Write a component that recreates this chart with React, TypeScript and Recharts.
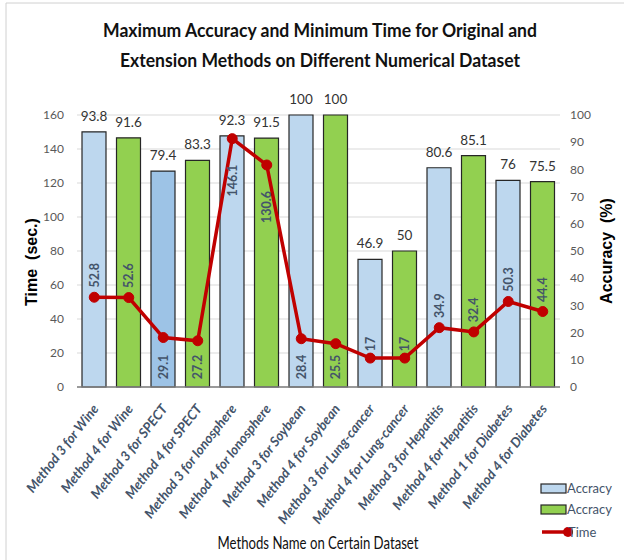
import React from "react";
import {
  ComposedChart,
  Bar,
  Line,
  XAxis,
  YAxis,
  CartesianGrid,
  Cell,
  LabelList,
} from "recharts";

// Categories on the x axis (one bar per method/dataset pair)
const methods = [
  "Method 3 for Wine",
  "Method 4 for Wine",
  "Method 3 for SPECT",
  "Method 4 for SPECT",
  "Method 3 for Ionosphere",
  "Method 4 for Ionosphere",
  "Method 3 for Soybean",
  "Method 4 for Soybean",
  "Method 3 for Lung-cancer",
  "Method 4 for Lung-cancer",
  "Method 3 for Hepatitis",
  "Method 4 for Hepatitis",
  "Method 1 for Diabetes",
  "Method 4 for Diabetes",
];

// Accuracy (%) drawn as bars on the right axis
const accuracy = [93.8, 91.6, 79.4, 83.3, 92.3, 91.5, 100, 100, 46.9, 50, 80.6, 85.1, 76, 75.5];

// Time (sec.) drawn as the red line on the left axis
const timeSec = [52.8, 52.6, 29.1, 27.2, 146.1, 130.6, 28.4, 25.5, 17, 17, 34.9, 32.4, 50.3, 44.4];

const timeTicks = [0, 20, 40, 60, 80, 100, 120, 140, 160];
const accTicks = [0, 10, 20, 30, 40, 50, 60, 70, 80, 90, 100];

const data = methods.map((name, i) => ({ name, acc: accuracy[i], time: timeSec[i] }));

const CAL = 'Lato, "Open Sans", sans-serif';
const ARIAL = '"Liberation Sans", Arial, sans-serif';
const BLUE = "#BDD7EE";
const BLUE_DARK = "#9DC3E6";
const GREEN = "#92D050";
const RED = "#C00000";
const SLATE = "#44546A";

// plot area bounds (px)
const PLOT_TOP = 115;
const PLOT_BOTTOM = 387;

const barColor = (i: number) => (i % 2 === 1 ? GREEN : i === 2 ? BLUE_DARK : BLUE);

// rotated x-axis labels
const XTick = (props: any) => {
  const { x, y, payload } = props;
  const ax = x + 5;
  const ay = y + 14;
  return (
    <text
      x={ax}
      y={ay}
      transform={`rotate(-52, ${ax}, ${ay})`}
      textAnchor="end"
      fill={SLATE}
      fontSize={13.5}
      fontStyle="italic"
      fontWeight="bold"
      fontFamily={CAL}
    >
      {payload.value}
    </text>
  );
};

// vertical time labels inside the bars, placed roughly the way Excel did
const TimeLabel = (props: any) => {
  const { x, y, value, index } = props;
  const acc = accuracy[index];
  const barTop = PLOT_BOTTOM - (acc / 100) * (PLOT_BOTTOM - PLOT_TOP);
  let cy = y - 22;
  if (value < 30 && acc > 60) cy = PLOT_BOTTOM - 20;
  else if (y - barTop < 45) cy = y + 42;
  else if (String(value).length <= 2) cy = y - 14;
  return (
    <text
      x={x}
      y={cy}
      transform={`rotate(-90, ${x}, ${cy})`}
      textAnchor="middle"
      dominantBaseline="central"
      fill={SLATE}
      fontSize={12.5}
      fontWeight="bold"
      fontFamily={CAL}
    >
      {value}
    </text>
  );
};

const App: React.FC = () => {
  return (
    <div style={{ position: "absolute", left: 0, top: 0, width: 624, height: 560, background: "#fff" }}>
      <ComposedChart
        width={624}
        height={560}
        data={data}
        margin={{ top: PLOT_TOP, right: 24, left: 27, bottom: 113 }}
        barSize={24}
      >
        <CartesianGrid vertical={false} stroke="#D9D9D9" yAxisId="left" />
        <XAxis
          dataKey="name"
          interval={0}
          height={60}
          tickLine={false}
          axisLine={{ stroke: "#7F7F7F", strokeWidth: 1.5 }}
          tick={<XTick />}
        />
        <YAxis
          yAxisId="left"
          orientation="left"
          width={50}
          domain={[0, 160]}
          ticks={timeTicks}
          axisLine={false}
          tickLine={false}
          tickSize={0}
          tickMargin={13}
          tick={{ fill: "#595959", fontSize: 12, fontFamily: CAL }}
        />
        <YAxis
          yAxisId="right"
          orientation="right"
          width={40}
          domain={[0, 100]}
          ticks={accTicks}
          axisLine={false}
          tickLine={false}
          tickSize={0}
          tickMargin={10}
          tick={{ fill: "#595959", fontSize: 12, fontFamily: CAL, textAnchor: "start" }}
        />
        <Bar dataKey="acc" yAxisId="right" stroke="#262626" strokeWidth={1.2} isAnimationActive={false}>
          {data.map((_, i) => (
            <Cell key={i} fill={barColor(i)} />
          ))}
          <LabelList
            dataKey="acc"
            position="top"
            offset={11}
            fill="#333"
            fontSize={13.5}
            fontFamily={CAL}
          />
        </Bar>
        <Line
          dataKey="time"
          yAxisId="left"
          stroke={RED}
          strokeWidth={3.5}
          dot={{ r: 5, fill: RED, stroke: RED, strokeWidth: 1 }}
          isAnimationActive={false}
        >
          <LabelList dataKey="time" content={<TimeLabel />} />
        </Line>
      </ComposedChart>

      {/* titles, frame and legend */}
      <svg
        width={624}
        height={560}
        style={{ position: "absolute", left: 0, top: 0, pointerEvents: "none" }}
      >
        <line x1={6} y1={3} x2={624} y2={3} stroke="#D0D0D0" />
        <line x1={6} y1={3} x2={6} y2={560} stroke="#D0D0D0" />
        <text
          x={320}
          y={37}
          textAnchor="middle"
          fontFamily={CAL}
          fontWeight="bold"
          fontSize={19.5}
          fill="#111"
          textLength={434}
          lengthAdjust="spacingAndGlyphs"
        >
          Maximum Accuracy and Minimum Time for Original and
        </text>
        <text
          x={320}
          y={67}
          textAnchor="middle"
          fontFamily={CAL}
          fontWeight="bold"
          fontSize={19.5}
          fill="#111"
          textLength={400}
          lengthAdjust="spacingAndGlyphs"
        >
          Extension Methods on Different Numerical Dataset
        </text>
        <text
          x={31}
          y={262}
          transform="rotate(-90, 31, 262)"
          textAnchor="middle"
          dominantBaseline="central"
          fontFamily={ARIAL}
          fontWeight="bold"
          fontSize={16}
          xmlSpace="preserve"
        >
          {"Time  (sec.)"}
        </text>
        <text
          x={606}
          y={251}
          transform="rotate(-90, 606, 251)"
          textAnchor="middle"
          dominantBaseline="central"
          fontFamily={ARIAL}
          fontWeight="bold"
          fontSize={16}
          xmlSpace="preserve"
        >
          {"Accuracy  (%)"}
        </text>
        <text
          x={318}
          y={549}
          textAnchor="middle"
          fontFamily={CAL}
          fontSize={16.5}
          fill="#111"
          textLength={201}
          lengthAdjust="spacingAndGlyphs"
        >
          Methods Name on Certain Dataset
        </text>

        {/* legend */}
        <rect x={541} y={484} width={25} height={9} fill={BLUE} stroke="#262626" strokeWidth={1.2} />
        <text x={567} y={493} fontFamily={CAL} fontSize={13} fill={SLATE}>Accracy</text>
        <rect x={541} y={505} width={25} height={9} fill={GREEN} stroke="#262626" strokeWidth={1.2} />
        <text x={567} y={514} fontFamily={CAL} fontSize={13} fill={SLATE}>Accracy</text>
        <line x1={542} y1={532} x2={568} y2={532} stroke={RED} strokeWidth={3.5} />
        <circle cx={568} cy={532} r={5} fill={RED} />
        <text x={568} y={537} fontFamily={CAL} fontSize={13} fill={SLATE}>Time</text>
      </svg>
    </div>
  );
};

export default App;
